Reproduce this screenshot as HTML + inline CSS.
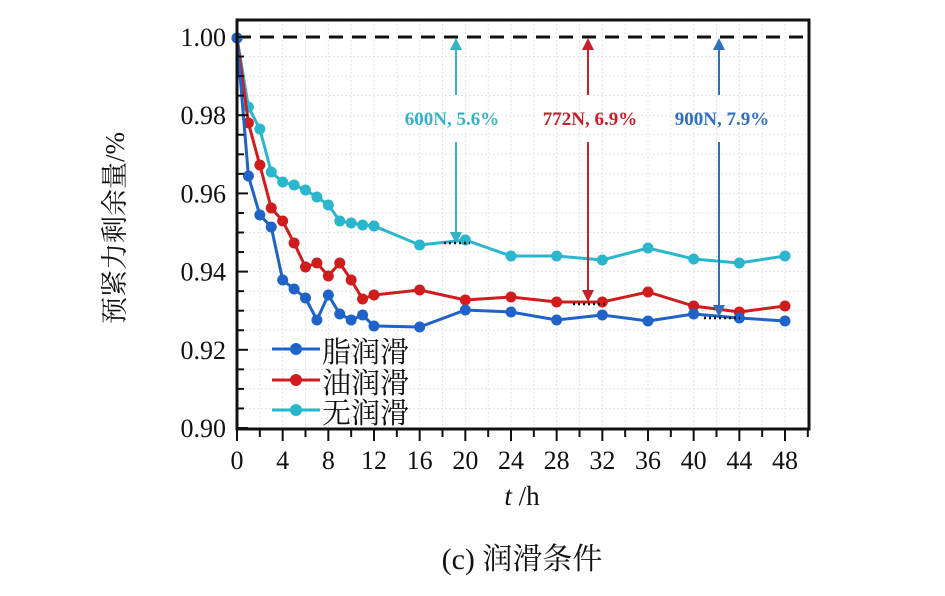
<!DOCTYPE html>
<html><head><meta charset="utf-8"><style>
body{margin:0;background:#fff;}
</style></head><body>
<svg width="945" height="591" xmlns="http://www.w3.org/2000/svg" font-family="Liberation Serif, Noto Serif CJK SC, serif">
<g id="grid" stroke="#e4e4e4" stroke-width="1" stroke-dasharray="2,2"></g>
<line x1="237" y1="37" x2="810" y2="37" stroke="#111" stroke-width="3" stroke-dasharray="14,9"/>
<g id="series"></g>
<rect x="237" y="20" width="572" height="409" fill="none" stroke="#111" stroke-width="3"/>
<g id="ticks" stroke="#111" stroke-width="2"></g>
<g font-size="26" fill="#111" text-anchor="end" id="ylab"></g>
<g font-size="26" fill="#111" text-anchor="middle" id="xlab"></g>
<g font-size="19" font-weight="bold">
<text x="452" y="125" fill="#35b3c8" text-anchor="middle">600N, 5.6%</text>
<text x="590" y="125" fill="#c8202a" text-anchor="middle">772N, 6.9%</text>
<text x="722" y="125" fill="#2f6fc0" text-anchor="middle">900N, 7.9%</text>
</g>
<g stroke-width="2">
<line x1="456" y1="48" x2="456" y2="95" stroke="#35b3c8"/><line x1="456" y1="142" x2="456" y2="232" stroke="#35b3c8"/>
<polygon points="450,50 462,50 456,38" fill="#35b3c8"/><polygon points="450,232 462,232 456,244" fill="#35b3c8"/>
<line x1="588" y1="48" x2="588" y2="95" stroke="#c8202a"/><line x1="588" y1="142" x2="588" y2="290" stroke="#c8202a"/>
<polygon points="582,50 594,50 588,38" fill="#c8202a"/><polygon points="582,290 594,290 588,302" fill="#c8202a"/>
<line x1="719" y1="48" x2="719" y2="95" stroke="#2f6fc0"/><line x1="719" y1="142" x2="719" y2="305" stroke="#2f6fc0"/>
<polygon points="713,50 725,50 719,38" fill="#2f6fc0"/><polygon points="713,305 725,305 719,317" fill="#2f6fc0"/>
</g>
<g stroke="#111" stroke-width="2.5" stroke-dasharray="2,3">
<line x1="444" y1="243" x2="470" y2="243"/><line x1="573" y1="304" x2="607" y2="304"/><line x1="704" y1="318" x2="740" y2="318"/>
</g>
<g font-size="29" fill="#111" font-family="Noto Serif CJK SC, serif">
<line x1="272" y1="349" x2="320" y2="349" stroke="#1f63c8" stroke-width="3"/><circle cx="296" cy="349" r="6" fill="#1f63c8"/>
<text x="322" y="362">脂润滑</text>
<line x1="272" y1="380" x2="320" y2="380" stroke="#d01c1c" stroke-width="3"/><circle cx="296" cy="380" r="6" fill="#d01c1c"/>
<text x="322" y="393">油润滑</text>
<line x1="272" y1="410" x2="320" y2="410" stroke="#2ab6cc" stroke-width="3"/><circle cx="296" cy="410" r="6" fill="#2ab6cc"/>
<text x="322" y="423">无润滑</text>
</g>
<text x="0" y="0" font-size="27" fill="#111" transform="translate(124,228) rotate(-90)" text-anchor="middle">预紧力剩余量/%</text>
<text x="522" y="505" font-size="27" fill="#111" text-anchor="middle"><tspan font-style="italic">t</tspan> /h</text>
<text x="522" y="569" font-size="30" fill="#111" text-anchor="middle">(c) 润滑条件</text>
<script>
const ns="http://www.w3.org/2000/svg";
function el(p,t,a,txt){const e=document.createElementNS(ns,t);for(const k in a)e.setAttribute(k,a[k]);if(txt!==undefined)e.textContent=txt;document.getElementById(p).appendChild(e);}
const X=t=>237+t*548/48, Y=v=>37+(1-v)/0.1*391;
for(let t=2;t<=48;t+=2)el("grid","line",{x1:X(t),y1:20,x2:X(t),y2:429});
for(let i=1;i<20;i++){const y=37+i*391/20;el("grid","line",{x1:237,y1:y,x2:809,y2:y});}
for(let i=0;i<=20;i++){const y=37+i*391/20;el("ticks","line",{x1:237,y1:y,x2:i%4==0?248:244,y2:y});}
for(let t=0;t<=50;t+=2){if(X(t)>808)break;el("ticks","line",{x1:X(t),y1:429,x2:X(t),y2:t%4==0?441:437});}
for(let i=0;i<=5;i++){el("ylab","text",{x:226,y:Y(1-i*0.02)+9},(1-i*0.02).toFixed(2));}
for(let t=0;t<=48;t+=4)el("xlab","text",{x:X(t),y:469},t);
const ts=[0,1,2,3,4,5,6,7,8,9,10,11,12,16,20,24,28,32,36,40,44,48];
const S=[["#2ab6cc",[38,107,129,172,182,185,190,197,205,221,223,225,226,245,240,256,256,260,248,259,263,256]],
["#d01c1c",[38,123,165,208,221,243,267,263,276,263,280,299,295,290,300,297,302,302,292,306,312,306]],
["#1f63c8",[38,176,215,227,280,289,298,320,295,314,320,315,326,327,310,312,320,315,321,314,318,321]]];
for(const [c,ys] of S){el("series","polyline",{points:ts.map((t,i)=>X(t)+","+ys[i]).join(" "),fill:"none",stroke:c,"stroke-width":3});
ts.forEach((t,i)=>el("series","circle",{cx:X(t),cy:ys[i],r:5.5,fill:c}));}
</script>
</svg>
</body></html>
